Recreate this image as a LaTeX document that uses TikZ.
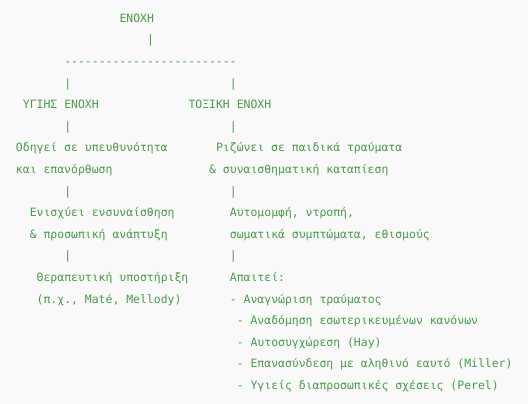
\documentclass[tikz,border=0pt]{standalone}
\usepackage{fontspec}
\setmonofont{DejaVu Sans Mono}
\definecolor{bgc}{RGB}{249,249,249}
\definecolor{txt}{RGB}{72,156,72}
\begin{document}
\begin{tikzpicture}[x=1pt,y=-1pt,
  ln/.style={anchor=base west,inner sep=0pt,outer sep=0pt,text=txt,
    font=\ttfamily\fontsize{11.45pt}{13pt}\selectfont}]
\fill[bgc] (0,0) rectangle (528,404);
\useasboundingbox (0,0) rectangle (528,404);
\def\cw{6.9}
\def\xo{16}
\def\ly{21.6}
\newcommand\at[4]{\node[ln] (#1) at ({\xo+#2*\cw},{22.3+#3*\ly}) {#4};}
\at{root}{15}{0}{ΕΝΟΧΗ}
\at{b1}{19}{1}{|}
\at{dash}{7}{2}{-------------------------}
\at{b3l}{7}{3}{|}
\at{b3r}{31}{3}{|}
\at{healthy}{1}{4}{ΥΓΙΗΣ ΕΝΟΧΗ}
\at{toxic}{25}{4}{ΤΟΞΙΚΗ ΕΝΟΧΗ}
\at{b5l}{7}{5}{|}
\at{b5r}{31}{5}{|}
\at{h1}{0}{6}{Οδηγεί σε υπευθυνότητα}
\at{t1}{29}{6}{Ριζώνει σε παιδικά τραύματα}
\at{h2}{0}{7}{και επανόρθωση}
\at{t2}{28}{7}{\& συναισθηματική καταπίεση}
\at{b8l}{7}{8}{|}
\at{b8r}{31}{8}{|}
\at{h3}{2}{9}{Ενισχύει ενσυναίσθηση}
\at{t3}{31}{9}{Αυτομομφή, ντροπή,}
\at{h4}{2}{10}{\& προσωπική ανάπτυξη}
\at{t4}{31}{10}{σωματικά συμπτώματα, εθισμούς}
\at{b11l}{7}{11}{|}
\at{b11r}{31}{11}{|}
\at{h5}{3}{12}{Θεραπευτική υποστήριξη}
\at{t5}{31}{12}{Απαιτεί:}
\at{h6}{3}{13}{(π.χ., Maté, Mellody)}
\at{t6}{31}{13}{- Αναγνώριση τραύματος}
\at{t7}{32}{14}{- Αναδόμηση εσωτερικευμένων κανόνων}
\at{t8}{32}{15}{- Αυτοσυγχώρεση (Hay)}
\at{t9}{32}{16}{- Επανασύνδεση με αληθινό εαυτό (Miller)}
\at{t10}{32}{17}{- Υγιείς διαπροσωπικές σχέσεις (Perel)}
\end{tikzpicture}
\end{document}
